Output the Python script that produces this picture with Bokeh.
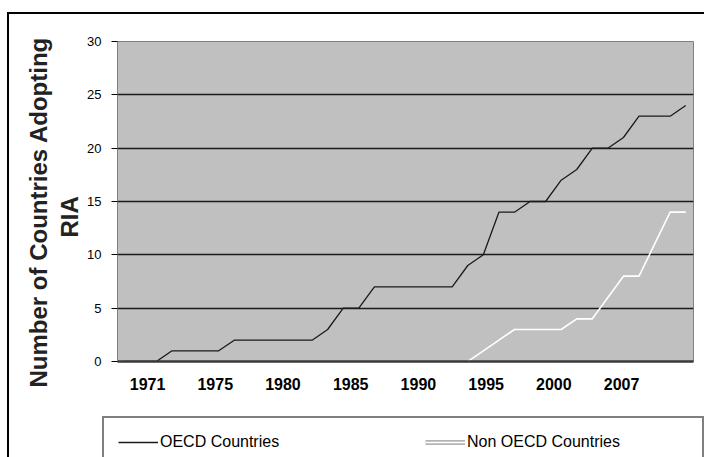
from bokeh.plotting import figure
from bokeh.models import Range1d, FixedTicker, Legend, LegendItem, Title
from bokeh.layouts import column
from bokeh.embed import file_html
from bokeh.resources import INLINE

# ---- data ----
years = [1971, 1972, 1973, 1974, 1975, 1976, 1977, 1978, 1979, 1980,
         1981, 1982, 1983, 1984, 1985, 1986, 1987, 1988, 1989, 1990,
         1991, 1992, 1993, 1994, 1995, 1996, 1997, 1998, 1999, 2000,
         2001, 2002, 2003, 2004, 2005, 2006, 2007]
oecd = [0, 0, 0, 1, 1, 1, 1, 2, 2, 2,
        2, 2, 2, 3, 5, 5, 7, 7, 7, 7,
        7, 7, 9, 10, 14, 14, 15, 15, 17, 18,
        20, 20, 21, 23, 23, 23, 24]
non_oecd = [None, None, None, None, None, None, None, None, None, None,
            None, None, None, None, None, None, None, None, None, None,
            None, None, 0, 1, 2, 3, 3, 3, 3, 4,
            4, 6, 8, 8, 11, 14, 14]
x_tick_labels = ["1971", "1975", "1980", "1985", "1990", "1995", "2000", "2007"]
y_ticks = [0, 5, 10, 15, 20, 25, 30]
series_names = ["OECD Countries", "Non OECD Countries"]
y_title = ["Number of Countries Adopting", "RIA"]

FONT = "Liberation Sans"
NAN = float("nan")
non_oecd_f = [NAN if v is None else v for v in non_oecd]

# tick label placement (layout, as in the reference picture)
x_tick_pos = [years[0] + 1.43 + 4.35 * i for i in range(len(x_tick_labels))]

# ---------------- main chart ----------------
p = figure(width=695, height=396,
           x_range=Range1d(years[0] - 0.5, years[-1] + 0.5),
           y_range=Range1d(0, 30),
           output_backend="svg", toolbar_location=None,
           min_border_left=108, min_border_right=11,
           min_border_top=27, min_border_bottom=49)
p.frame_align = False

p.background_fill_color = "#c0c0c0"
p.border_fill_color = "white"
p.outline_line_color = "#808080"
p.outline_line_width = 1

p.xgrid.visible = False
p.ygrid.ticker = FixedTicker(ticks=y_ticks)
p.ygrid.grid_line_color = "#1a1a1a"
p.ygrid.grid_line_width = 1.5

yax = p.yaxis[0]
yax.ticker = FixedTicker(ticks=y_ticks)
yax.axis_line_color = "#808080"
yax.axis_line_width = 1
yax.major_tick_line_color = "#000000"
yax.major_tick_out = 6
yax.major_tick_in = 0
yax.minor_tick_line_color = None
yax.major_label_text_font = FONT
yax.major_label_text_font_size = "13px"
yax.major_label_text_color = "#000000"
yax.major_label_standoff = 10

xax = p.xaxis[0]
xax.ticker = FixedTicker(ticks=x_tick_pos)
xax.major_label_overrides = {t: lab for t, lab in zip(x_tick_pos, x_tick_labels)}
xax.axis_line_color = "#3a3a3a"
xax.axis_line_width = 2.5
xax.major_tick_line_color = None
xax.major_tick_out = 0
xax.major_tick_in = 0
xax.minor_tick_line_color = None
xax.major_label_text_font = FONT
xax.major_label_text_font_size = "16px"
xax.major_label_text_font_style = "bold"
xax.major_label_text_color = "#000000"
xax.major_label_standoff = 16

p.line(years, oecd, line_color="#1a1a1a", line_width=1.3)
p.line(years, non_oecd_f, line_color="#ffffff", line_width=1.6)

# axis title: two rotated lines, positioned from the bottom of the plot area
t_ria = Title(text=y_title[1], align="left", offset=124, standoff=4,
              text_font=FONT, text_font_size="24px", text_font_style="bold",
              text_color="#222222")
t_num = Title(text=y_title[0], align="left", offset=-26, standoff=0,
              text_font=FONT, text_font_size="24px", text_font_style="bold",
              text_color="#222222")
p.add_layout(t_ria, "left")
p.add_layout(t_num, "left")

# ---------------- legend strip ----------------
W2, H2 = 695, 47
q = figure(width=W2, height=H2, x_range=Range1d(0, W2), y_range=Range1d(0, H2),
           x_axis_type=None, y_axis_type=None,
           output_backend="svg", toolbar_location=None,
           min_border_left=0, min_border_right=0, min_border_top=0, min_border_bottom=0)
q.frame_align = False
q.grid.visible = False
q.outline_line_color = None
q.background_fill_color = "white"
q.border_fill_color = "white"

l1 = q.line([NAN], [NAN], line_color="#1a1a1a", line_width=1.3)
l2a = q.line([NAN], [NAN], line_color="#b4b4b4", line_width=5)
l2b = q.line([NAN], [NAN], line_color="#ffffff", line_width=1.6)

legend = Legend(items=[LegendItem(label=series_names[0], renderers=[l1]),
                       LegendItem(label=series_names[1], renderers=[l2a, l2b])],
                orientation="horizontal", location=(93, -11),
                padding=14, spacing=44, label_width=221, label_height=20,
                glyph_height=20, glyph_width=40, label_standoff=2,
                border_line_color="#000000", border_line_width=2,
                background_fill_color="#ffffff", background_fill_alpha=1,
                label_text_font=FONT, label_text_font_size="16px",
                label_text_color="#000000", margin=0)
q.add_layout(legend)

layout = column(p, q, spacing=0)
layout.margin = (12, 0, 0, 7)
layout.styles = {"border-top": "2px solid #000000", "border-left": "2px solid #000000"}

open("out.html", "w").write(file_html(layout, INLINE))
